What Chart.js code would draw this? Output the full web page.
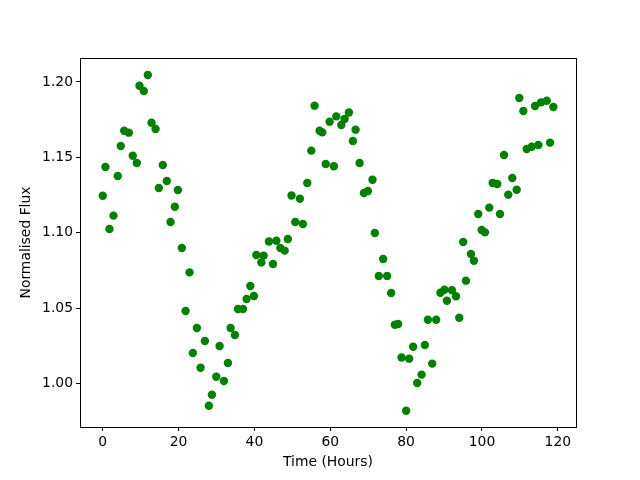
<!DOCTYPE html>
<html lang="en">
<head>
  <meta charset="UTF-8" />
  <title>Normalised Flux vs Time</title>
  <script src="https://cdn.jsdelivr.net/npm/chart.js"></script>
  <style>
    body { margin: 0; background: #fff; }
    canvas { display: block; }
  </style>
</head>
<body>
  <canvas id="fluxChart" width="640" height="480"></canvas>

  <script>
    // observation times (hours)
    const timeHours = [
      0.00, 0.71, 1.77, 2.83, 3.96, 4.75, 5.65, 6.87, 7.92, 8.98,
      9.69, 10.83, 11.88, 12.86, 13.92, 14.79, 15.84, 16.90, 17.88, 19.01,
      19.80, 20.86, 21.84, 22.89, 23.76, 24.82, 25.80, 26.93, 27.99, 28.78,
      29.94, 30.81, 31.95, 33.01, 33.72, 34.85, 35.65, 36.97, 37.94, 38.92,
      39.87, 40.50, 41.82, 42.43, 43.83, 44.89, 45.79, 46.84, 47.98, 48.81,
      49.79, 50.77, 51.98, 52.77, 53.93, 54.99, 55.86, 57.18, 57.89, 58.80,
      59.82, 60.95, 61.59, 62.90, 63.78, 64.91, 65.97, 66.68, 67.73, 68.87,
      69.93, 71.14, 71.75, 72.80, 73.94, 74.99, 76.05, 77.03, 77.90, 78.80,
      80.01, 80.80, 81.86, 82.92, 84.08, 84.95, 85.74, 86.88, 87.93, 89.04,
      90.10, 90.76, 92.08, 93.14, 94.01, 95.06, 95.77, 97.10, 97.89, 99.02,
      99.92, 100.79, 101.93, 102.83, 104.04, 104.75, 105.81, 106.94, 108.00, 109.16,
      109.85, 110.91, 111.80, 113.12, 114.00, 114.87, 115.58, 117.08, 117.96, 118.83
    ];

    // normalised flux at each time
    const flux = [
      1.1246, 1.1437, 1.1026, 1.1114, 1.1377, 1.1576, 1.1677, 1.1664, 1.1511, 1.1463,
      1.1975, 1.1940, 1.2046, 1.1730, 1.1688, 1.1297, 1.1450, 1.1344, 1.1072, 1.1173,
      1.1284, 1.0900, 1.0482, 1.0738, 1.0204, 1.0369, 1.0106, 1.0283, 0.9854, 0.9927,
      1.0046, 1.0250, 1.0018, 1.0137, 1.0369, 1.0323, 1.0495, 1.0495, 1.0561, 1.0648,
      1.0581, 1.0853, 1.0804, 1.0849, 1.0943, 1.0793, 1.0948, 1.0900, 1.0882, 1.0959,
      1.1248, 1.1072, 1.1226, 1.1059, 1.1330, 1.1545, 1.1843, 1.1677, 1.1666, 1.1456,
      1.1737, 1.1441, 1.1772, 1.1715, 1.1755, 1.1798, 1.1609, 1.1684, 1.1463, 1.1264,
      1.1277, 1.1352, 1.0999, 1.0714, 1.0827, 1.0714, 1.0601, 1.0391, 1.0396, 1.0174,
      0.9821, 1.0166, 1.0245, 1.0005, 1.0060, 1.0257, 1.0424, 1.0133, 1.0424, 1.0603,
      1.0623, 1.0550, 1.0620, 1.0580, 1.0437, 1.0939, 1.0683, 1.0860, 1.0815, 1.1125,
      1.1019, 1.1003, 1.1167, 1.1330, 1.1324, 1.1125, 1.1516, 1.1253, 1.1364, 1.1286,
      1.1894, 1.1808, 1.1556, 1.1571, 1.1841, 1.1582, 1.1865, 1.1876, 1.1598, 1.1834
    ];

    // tick labels
    const xTicks = [0, 20, 40, 60, 80, 100, 120];
    const yTicks = [1.00, 1.05, 1.10, 1.15, 1.20];

    const points = timeHours.map((t, i) => ({ x: t, y: flux[i] }));

    // draw the box around the plot (top/right spines)
    const frame = {
      id: 'frame',
      afterDraw(chart) {
        const { ctx, chartArea: a } = chart;
        ctx.save();
        ctx.strokeStyle = '#000';
        ctx.lineWidth = 1;
        ctx.strokeRect(a.left + 0.5, a.top + 0.5, a.right - a.left, a.bottom - a.top);
        ctx.restore();
      }
    };

    Chart.defaults.font.family = '"DejaVu Sans", sans-serif';
    Chart.defaults.font.size = 13.9;
    Chart.defaults.color = '#000';

    new Chart(document.getElementById('fluxChart'), {
      type: 'scatter',
      data: {
        datasets: [{
          data: points,
          backgroundColor: '#008000',
          borderWidth: 0,
          pointRadius: 4.2,
          pointHoverRadius: 4.2
        }]
      },
      options: {
        responsive: false,
        animation: false,
        layout: { padding: { top: 58, right: 64, left: 0, bottom: 0 } },
        plugins: { legend: { display: false }, tooltip: { enabled: false } },
        scales: {
          x: {
            min: -6.0,
            max: 124.8,
            afterBuildTicks: s => { s.ticks = xTicks.map(v => ({ value: v })); },
            afterFit: s => { s.height = 53; },
            ticks: { padding: 3, maxRotation: 0 },
            grid: { drawOnChartArea: false, tickLength: 4, color: '#000' },
            border: { color: '#000' },
            title: { display: true, text: 'Time (Hours)', padding: { top: 9, bottom: 9 } }
          },
          y: {
            min: 0.9713,
            max: 1.2159,
            afterBuildTicks: s => { s.ticks = yTicks.map(v => ({ value: v })); },
            afterFit: s => { s.width = 80; },
            ticks: { padding: 3, callback: v => v.toFixed(2) },
            grid: { drawOnChartArea: false, tickLength: 4, color: '#000' },
            border: { color: '#000' },
            title: { display: true, text: 'Normalised Flux', padding: { top: 18, bottom: 18 } }
          }
        }
      },
      plugins: [frame]
    });
  </script>
</body>
</html>
